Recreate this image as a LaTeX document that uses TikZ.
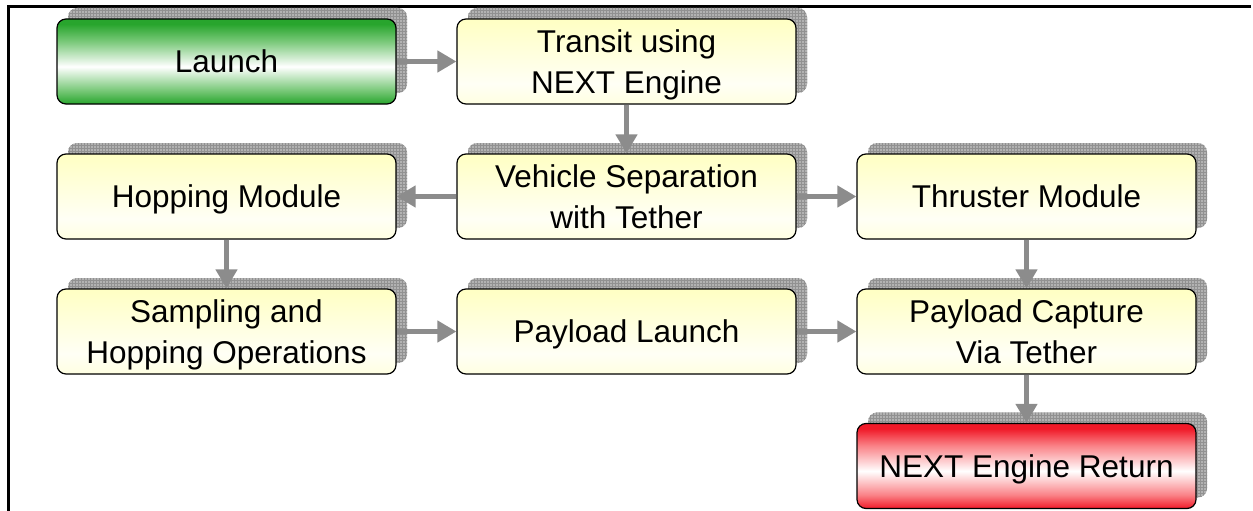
\documentclass[tikz,border=0pt]{standalone}
\usepackage{fontspec}
\setmainfont{Liberation Sans}
\usetikzlibrary{arrows.meta,shadows,patterns}
\definecolor{gr}{RGB}{40,165,45}
\definecolor{grl}{RGB}{120,200,120}
\definecolor{rd}{RGB}{240,25,40}
\definecolor{rdl}{RGB}{250,130,135}
\definecolor{yl}{RGB}{255,255,195}
\definecolor{yl2}{RGB}{255,255,225}
\definecolor{ylw}{RGB}{255,255,245}
\definecolor{shbg}{RGB}{178,178,178}
\definecolor{shln}{RGB}{145,145,145}
\definecolor{arr}{RGB}{140,140,140}
\pgfdeclareverticalshading{greenshade}{100bp}{color(0bp)=(gr); color(25bp)=(gr); color(33bp)=(grl); color(47bp)=(white); color(62bp)=(grl); color(72bp)=(gr); color(100bp)=(gr)}
\pgfdeclareverticalshading{redshade}{100bp}{color(0bp)=(rd); color(25bp)=(rd); color(33bp)=(rdl); color(47bp)=(white); color(62bp)=(rdl); color(72bp)=(rd); color(100bp)=(rd)}
\pgfdeclareverticalshading{yellowshade}{100bp}{color(0bp)=(yl2); color(25bp)=(yl2); color(37bp)=(ylw); color(75bp)=(yl); color(100bp)=(yl)}
\tikzset{
  shadowed/.style={
    general shadow={shadow xshift=11pt,shadow yshift=11pt,fill=shbg,draw=none},
    general shadow={shadow xshift=11pt,shadow yshift=11pt,pattern=grid,pattern color=shln,draw=none}},
  box/.style={shadowed, draw=black, line width=1.2pt, rounded corners=9pt,
    minimum width=339pt, minimum height=85pt, inner sep=0pt, align=center,
    font=\fontsize{31.5}{41}\selectfont, text=black},
  oneline/.style={text height=22.6pt, text depth=0pt},
  twoline/.style={text height=63.6pt, text depth=0pt},
  ybox/.style={box, shading=yellowshade},
  gbox/.style={box, shading=greenshade},
  rbox/.style={box, shading=redshade},
  flow/.style={draw=arr, line width=4.5pt, -{Triangle[length=19pt,width=21pt]}},
  frameline/.style={line width=3pt, draw=black}
}
\begin{document}
\begin{tikzpicture}
\useasboundingbox (0,0) rectangle (1253pt,-511pt);
\coordinate (fa) at (8pt,-511pt);
\coordinate (fb) at (8pt,-7pt);
\coordinate (fc) at (1251pt,-7pt);
\draw[frameline] (fa) -- (fb) -- (fc);
\node[gbox,oneline] (launch) at (226.5pt,-61.5pt) {Launch};
\node[ybox,twoline] (transit) at (626.5pt,-61.5pt) {Transit using\\NEXT Engine};
\node[ybox,oneline] (hop) at (226.5pt,-196.5pt) {Hopping Module};
\node[ybox,twoline] (sep) at (626.5pt,-196.5pt) {Vehicle Separation\\with Tether};
\node[ybox,oneline] (thr) at (1026.5pt,-196.5pt) {Thruster Module};
\node[ybox,twoline] (samp) at (226.5pt,-331.5pt) {Sampling and\\Hopping Operations};
\node[ybox,oneline] (pl) at (626.5pt,-331.5pt) {Payload Launch};
\node[ybox,twoline] (cap) at (1026.5pt,-331.5pt) {Payload Capture\\Via Tether};
\node[rbox,oneline] (ret) at (1026.5pt,-466pt) {NEXT Engine Return};
\draw[flow] (launch.east) -- (transit.west);
\draw[flow] (transit.south) -- (sep.north);
\draw[flow] (sep.west) -- (hop.east);
\draw[flow] (sep.east) -- (thr.west);
\draw[flow] (hop.south) -- (samp.north);
\draw[flow] (thr.south) -- (cap.north);
\draw[flow] (samp.east) -- (pl.west);
\draw[flow] (pl.east) -- (cap.west);
\draw[flow] (cap.south) -- (ret.north);
\end{tikzpicture}
\end{document}
